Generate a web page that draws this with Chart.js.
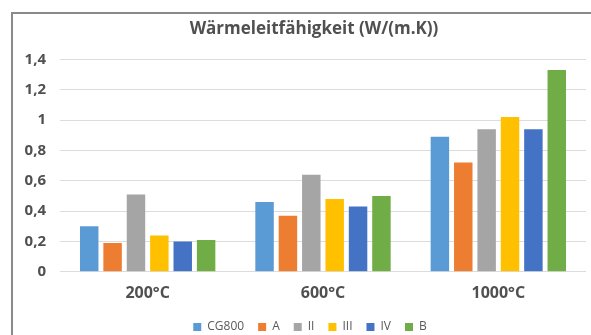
<!DOCTYPE html>
<html>
<head>
<meta charset="utf-8">
<script src="https://cdn.jsdelivr.net/npm/chart.js@4/dist/chart.umd.min.js"></script>
<style>
  html, body { margin: 0; padding: 0; overflow: hidden; background: #fff; }
  #frame { position: absolute; left: 11px; top: 12px; width: 700px; height: 400px; border: 2px solid #8a8a8a; }
  #chart { position: absolute; left: 0; top: 0; }
</style>
</head>
<body>
<div id="frame"></div>
<canvas id="chart" width="591" height="335"></canvas>
<script>
// Kategorien und Werte
const categories = ['200°C', '600°C', '1000°C'];
const seriesNames = ['CG800', 'A', 'II', 'III', 'IV', 'B'];
const cg800 = [0.30, 0.46, 0.89];
const serA = [0.19, 0.37, 0.72];
const serII = [0.51, 0.64, 0.94];
const serIII = [0.24, 0.48, 1.02];
const serIV = [0.20, 0.43, 0.94];
const serB = [0.21, 0.50, 1.33];
const yTickLabels = ['0', '0,2', '0,4', '0,6', '0,8', '1', '1,2', '1,4'];

const colors = ['#5B9BD5', '#ED7D31', '#A5A5A5', '#FFC000', '#4472C4', '#70AD47'];
const values = [cg800, serA, serII, serIII, serIV, serB];

const textColor = '#505050';

// Titel und Legende wie im Original etwas nach rechts versetzen
const shiftBoxes = {
    id: 'shiftBoxes',
    afterLayout: function (chart) {
        if (chart.titleBlock) { chart.titleBlock.left += 15; chart.titleBlock.right += 15; }
        if (chart.legend) { chart.legend.left += 11; chart.legend.right += 11; }
    }
};

new Chart(document.getElementById('chart'), {
    type: 'bar',
    data: {
        labels: categories,
        datasets: seriesNames.map(function (name, i) {
            return {
                label: name,
                data: values[i],
                backgroundColor: colors[i],
                borderWidth: 0,
                categoryPercentage: 0.8,
                barPercentage: 0.79
            };
        })
    },
    options: {
        responsive: false,
        animation: false,
        devicePixelRatio: 1,
        layout: { padding: { left: 12, right: 5, top: 14, bottom: -8 } },
        plugins: {
            title: {
                display: true,
                text: 'Wärmeleitfähigkeit (W/(m.K))',
                color: textColor,
                font: { family: 'Open Sans', size: 17, weight: 'bold' },
                padding: { top: 5, bottom: 20 }
            },
            legend: {
                position: 'bottom',
                labels: {
                    boxWidth: 8,
                    boxHeight: 8,
                    padding: 14,
                    color: '#595959',
                    font: { family: 'Open Sans', size: 12 }
                }
            },
            tooltip: { enabled: false }
        },
        scales: {
            x: {
                grid: { display: false },
                border: { display: false },
                ticks: {
                    color: textColor,
                    padding: 4,
                    font: { family: 'Open Sans', size: 16, weight: 'bold' }
                }
            },
            y: {
                min: 0,
                max: 1.4,
                afterFit: function (scale) { scale.width = 48; },
                grid: { color: '#dcdcdc', lineWidth: 1, drawTicks: false },
                border: { display: false },
                ticks: {
                    stepSize: 0.2,
                    padding: 14,
                    color: textColor,
                    font: { family: 'Open Sans', size: 15, weight: 'bold' },
                    callback: function (v, i) { return yTickLabels[i]; }
                }
            }
        }
    },
    plugins: [shiftBoxes]
});
</script>
</body>
</html>
